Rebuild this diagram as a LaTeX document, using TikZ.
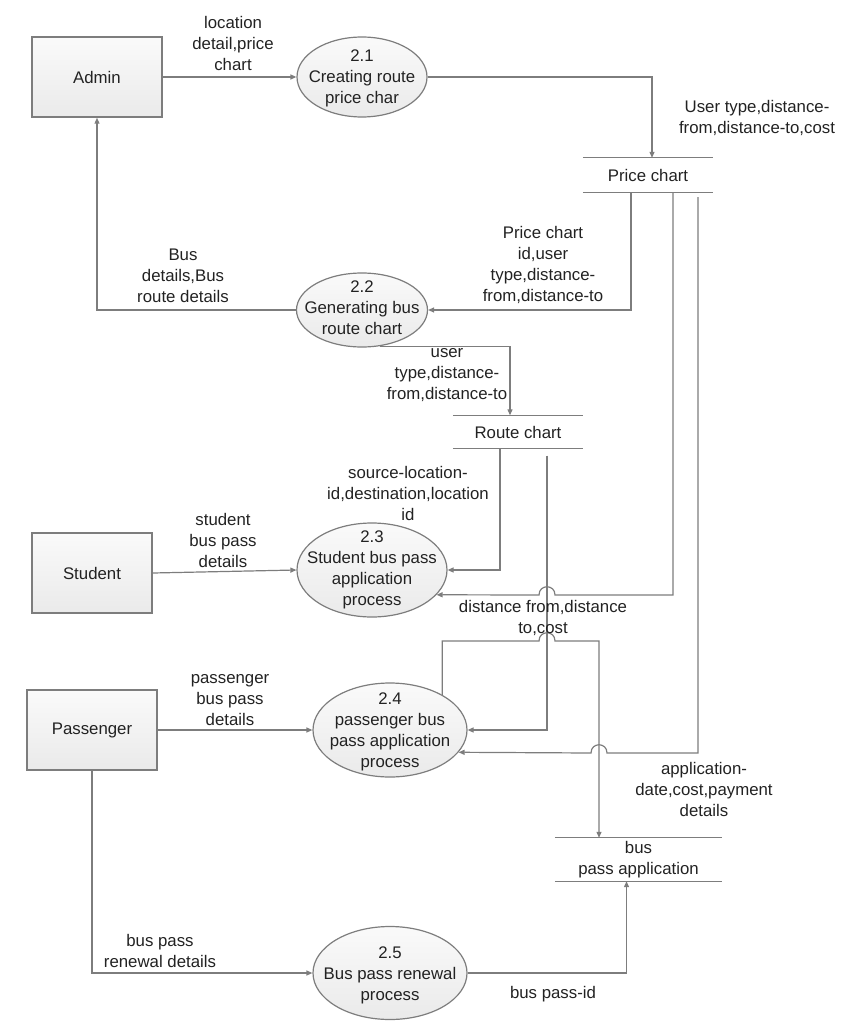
\documentclass[tikz,border=0pt]{standalone}
\usepackage{fontspec}
\setmainfont{Liberation Sans}
\usetikzlibrary{arrows.meta,shapes.geometric}
\definecolor{ink}{RGB}{34,34,34}
\definecolor{wire}{RGB}{125,125,125}
\definecolor{shadehi}{RGB}{250,250,250}
\definecolor{shadelo}{RGB}{234,234,234}

\begin{document}
\begin{tikzpicture}[x=1pt,y=-1pt,>={Triangle[length=6pt,width=5pt]},
  every node/.style={font=\fontsize{16.8}{21}\selectfont,text=ink,align=center},
  entity/.style={draw=wire,line width=1.5pt,top color=shadehi,bottom color=shadelo,minimum width=#1,minimum height=80pt,inner sep=0pt},
  proc/.style={ellipse,draw=wire,line width=1.2pt,top color=shadehi,bottom color=shadelo,inner sep=0pt},
  store/.style={inner sep=0pt,minimum width=#1},
  storeline/.style={draw=wire,line width=1.2pt},
  flow/.style={draw=wire,line width=1.2pt,->}]
\useasboundingbox (0,0) rectangle (853,1024);

\node[entity=130pt] (admin) at (97,77) {Admin};
\node[entity=120pt] (student) at (92,573) {Student};
\node[entity=130pt] (passenger) at (92,730) {Passenger};

\node[proc,minimum width=130pt,minimum height=80pt] (p21) at (362,77) {};
\node (p21t) at (362,78) {2.1\\Creating route\\price char};
\node[proc,minimum width=131pt,minimum height=74pt] (p22) at (362,310) {};
\node (p22t) at (362,308) {2.2\\Generating bus\\route chart};
\node[proc,minimum width=150pt,minimum height=94pt] (p23) at (372,570) {};
\node (p23t) at (372,570) {2.3\\Student bus pass\\application\\process};
\node[proc,minimum width=154pt,minimum height=94pt] (p24) at (390,730) {};
\node (p24t) at (390,732) {2.4\\passenger bus\\pass application\\process};
\node[proc,minimum width=154pt,minimum height=93pt] (p25) at (390,973) {};
\node (p25t) at (390,975) {2.5\\Bus pass renewal\\process};

\node[store=130pt,minimum height=34pt] (pc) at (648,175) {Price chart};
\draw[storeline] (pc.north west) -- (pc.north east) (pc.south west) -- (pc.south east);
\node[store=130pt,minimum height=33pt] (rc) at (518,432) {Route chart};
\draw[storeline] (rc.north west) -- (rc.north east) (rc.south west) -- (rc.south east);
\node[store=167pt,minimum height=43pt] (bpa) at (638.5,859.5) {bus\\pass application};
\draw[storeline] (bpa.north west) -- (bpa.north east) (bpa.south west) -- (bpa.south east);

\coordinate (j1) at (547,595);
\coordinate (j2) at (547,641);
\coordinate (j3) at (599,753);

\draw[flow] (admin) -- (p21);
\draw[flow] (p21.east) -| ([xshift=4pt]pc.north);
\draw[flow] ([xshift=-17pt]pc.south) |- (p22.east);
\draw[flow] (p22.west) -| (admin.south);
\draw[flow] (p22.-63) -| ([xshift=-8pt]rc.north);
\draw[flow] ([xshift=25pt]pc.south) |- ([xshift=8pt]j1) .. controls +(0,-11) and +(0,-11) .. ([xshift=-8pt]j1) -- (p23.-21.5);
\draw[flow] ([xshift=-18pt]rc.south) |- (p23.east);
\draw[flow] ([shift={(29pt,-7pt)}]rc.south) |- (p24.east);
\draw[flow] (student.east) -- (p23.west);
\draw[flow] (passenger.east) -- (p24.west);
\draw[flow] (p24.34.6) |- ([xshift=-8pt]j2) .. controls +(0,-11) and +(0,-11) .. ([xshift=8pt]j2) -| ([xshift=-39.5pt]bpa.north);
\draw[flow] ([shift={(50pt,-5pt)}]pc.south) |- ([xshift=8pt]j3) .. controls +(0,-11) and +(0,-11) .. ([xshift=-8pt]j3) -- (p24.-18.9);
\draw[flow] (passenger.south) |- (p25.west);
\draw[flow] (p25.east) -| ([xshift=-12pt]bpa.south);

\node (lLocation) at (233,43) {location\\detail,price\\chart};
\node (lUserCost) at (757,118) {User type,distance-\\from,distance-to,cost};
\node (lPriceId) at (543,265) {Price chart\\id,user\\type,distance-\\from,distance-to};
\node (lBusRoute) at (183,276) {Bus\\details,Bus\\route details};
\node (lUserType) at (447,375) {user\\type,distance-\\from,distance-to};
\node (lSource) at (408,493) {source-location-\\id,destination,location\\id};
\node (lStudent) at (223,540) {student\\bus pass\\details};
\node (lDistance) at (543,618) {distance from,distance\\to,cost};
\node (lPassenger) at (230,700) {passenger\\bus pass\\details};
\node (lAppDate) at (704,789) {application-\\date,cost,payment\\details};
\node (lRenewal) at (160,951) {bus pass\\renewal details};
\node (lPassId) at (553,994) {bus pass-id};
\end{tikzpicture}
\end{document}
